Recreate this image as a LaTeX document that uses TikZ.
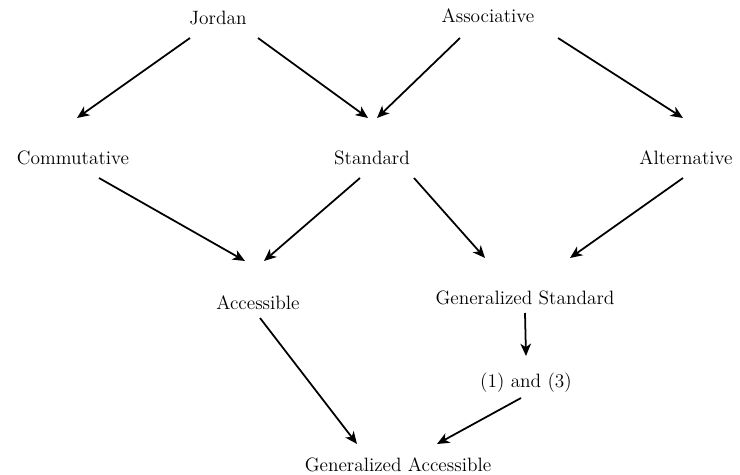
\documentclass[tikz,border=0pt]{standalone}
\usepackage{amsmath, amssymb}
\usepackage{xcolor}
\usepackage{tikz}
\usetikzlibrary{arrows.meta}

\begin{document}
\begin{tikzpicture}[
  cls/.style={inner sep=0pt, font=\fontsize{11}{13}\selectfont},
  imp/.style={line width=1pt, -{Stealth[length=7pt,width=6pt,inset=2pt]}}
]
\useasboundingbox (0,0) rectangle (14.8,-9.5);

\node[cls] (jor) at (4.36,-0.36) {Jordan};
\node[cls] (ass) at (9.76,-0.32) {Associative};
\node[cls] (com) at (1.46,-3.16) {Commutative};
\node[cls] (sta) at (7.44,-3.16) {Standard};
\node[cls] (alt) at (13.72,-3.16) {Alternative};
\node[cls] (acc) at (5.16,-6.06) {Accessible};
\node[cls] (gst) at (10.5,-5.96) {Generalized Standard};
\node[cls] (ott) at (10.52,-7.66) {(1) and (3)};
\node[cls] (gac) at (7.96,-9.3) {Generalized Accessible};

\draw[imp] ([shift={(-0.56,-0.4)}]jor.center) -- ([shift={(0.08,0.8)}]com.center);
\draw[imp] ([shift={(0.8,-0.4)}]jor.center) -- ([shift={(-0.08,0.8)}]sta.center);
\draw[imp] ([shift={(-0.56,-0.44)}]ass.center) -- ([shift={(0.1,0.8)}]sta.center);
\draw[imp] ([shift={(1.4,-0.44)}]ass.center) -- ([shift={(-0.06,0.8)}]alt.center);
\draw[imp] ([shift={(0.52,-0.4)}]com.center) -- ([shift={(-0.26,0.84)}]acc.center);
\draw[imp] ([shift={(-0.24,-0.4)}]sta.center) -- ([shift={(0.12,0.84)}]acc.center);
\draw[imp] ([shift={(0.84,-0.4)}]sta.center) -- ([shift={(-0.8,0.8)}]gst.center);
\draw[imp] ([shift={(-0.06,-0.4)}]alt.center) -- ([shift={(0.9,0.8)}]gst.center);
\draw[imp] ([shift={(0,-0.3)}]gst.center) -- ([shift={(0,0.54)}]ott.center);
\draw[imp] ([shift={(0.04,-0.3)}]acc.center) -- ([shift={(-0.82,0.42)}]gac.center);
\draw[imp] ([shift={(-0.1,-0.3)}]ott.center) -- ([shift={(0.78,0.42)}]gac.center);
\end{tikzpicture}
\end{document}
